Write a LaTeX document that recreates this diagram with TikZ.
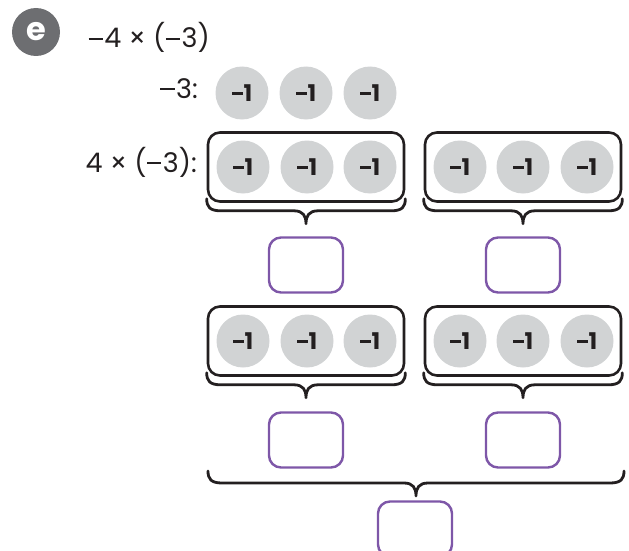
\documentclass[tikz,border=0pt]{standalone}
\usepackage{fontspec}
\setmainfont{Poppins}
\usetikzlibrary{calc}
\definecolor{chipgray}{HTML}{D1D3D4}
\definecolor{egray}{HTML}{6D6E71}
\definecolor{boxpurple}{HTML}{7E57A8}
\definecolor{ink}{HTML}{231F20}
\newcommand\mn{\kern0.02em\rule[0.3em]{0.52em}{0.065em}\kern0.06em}
\newcommand\bmn{\kern0.02em\rule[0.28em]{0.45em}{0.12em}\kern0.05em}
\tikzset{
  chip/.style={circle, fill=chipgray, minimum size=53pt, inner sep=0pt,
    font=\bfseries\fontsize{23}{23}\selectfont, text=ink},
  groupbox/.style={draw=ink, line width=2.6pt, rounded corners=12pt,
    minimum width=196pt, minimum height=69pt, inner sep=0pt},
  answerbox/.style={draw=boxpurple, line width=2.4pt, rounded corners=12pt,
    minimum width=74pt, minimum height=55pt, inner sep=0pt},
  bracestyle/.style={draw=ink, line width=2.8pt, line cap=round, line join=round},
  label/.style={font=\fontsize{27}{27}\selectfont, text=ink, inner sep=0pt},
}
\newcommand\drawbrace[2]{%
  \draw[bracestyle] let \p1=(#1), \p2=(#2), \p3=($(#1)!0.5!(#2)$) in
    (\x1,\y1) .. controls (\x1,\y1-8pt) and (\x1+3pt,\y1-12pt) .. (\x1+14pt,\y1-12pt)
    -- (\x3-12pt,\y1-12pt)
    .. controls (\x3-3pt,\y1-12pt) and (\x3,\y1-17pt) .. (\x3,\y1-25pt)
    .. controls (\x3,\y1-17pt) and (\x3+3pt,\y1-12pt) .. (\x3+12pt,\y1-12pt)
    -- (\x2-14pt,\y1-12pt)
    .. controls (\x2-3pt,\y1-12pt) and (\x2,\y1-8pt) .. (\x2,\y1);
}
\begin{document}
\begin{tikzpicture}[x=1pt,y=-1pt]
\useasboundingbox (0,0) rectangle (629,551);
\begin{scope}
\clip (0,0) rectangle (629,551);
% header
\node[circle, fill=egray, minimum size=48pt, inner sep=0pt, text=white,
  font=\bfseries\fontsize{32}{32}\selectfont] (e) at (36,32) {e};
\node[label, anchor=base west] (title) at (88,48) {\mn4 × (\mn3)};
% -3 row
\node[label, anchor=base east] (lab3) at (198,98) {\mn3:};
\node[chip] (t1) at (242,93) {\bmn1};
\node[chip] (t2) at (306,93) {\bmn1};
\node[chip] (t3) at (370,93) {\bmn1};
% 4 x (-3) row, first pair
\node[label, anchor=base east] (lab4) at (197,172) {4 × (\mn3):};
\node[groupbox] (g1) at (306,167) {};
\node[groupbox] (g2) at (523,167) {};
\foreach \i/\x in {1/243,2/307,3/370} \node[chip] (a\i) at (\x,167) {\bmn1};
\foreach \i/\x in {1/460,2/523,3/587} \node[chip] (b\i) at (\x,167) {\bmn1};
\coordinate (g1l) at ($(g1.south west)+(0,-4)$);
\coordinate (g1r) at ($(g1.south east)+(0,-4)$);
\coordinate (g2l) at ($(g2.south west)+(0,-4)$);
\coordinate (g2r) at ($(g2.south east)+(0,-4)$);
\drawbrace{g1l}{g1r}
\drawbrace{g2l}{g2r}
\node[answerbox] (p1) at (306,265) {};
\node[answerbox] (p2) at (523,265) {};
% second pair
\node[groupbox] (g3) at (306,341) {};
\node[groupbox] (g4) at (523,341) {};
\foreach \i/\x in {1/243,2/307,3/370} \node[chip] (c\i) at (\x,341) {\bmn1};
\foreach \i/\x in {1/460,2/523,3/587} \node[chip] (d\i) at (\x,341) {\bmn1};
\coordinate (g3l) at ($(g3.south west)+(0,-4)$);
\coordinate (g3r) at ($(g3.south east)+(0,-4)$);
\coordinate (g4l) at ($(g4.south west)+(0,-4)$);
\coordinate (g4r) at ($(g4.south east)+(0,-4)$);
\drawbrace{g3l}{g3r}
\drawbrace{g4l}{g4r}
\node[answerbox] (p3) at (306,440) {};
\node[answerbox] (p4) at (523,440) {};
% total brace
\coordinate (bl) at (208,471);
\coordinate (br) at (624,471);
\drawbrace{bl}{br}
\node[answerbox] (p5) at (415,529) {};
\end{scope}
\end{tikzpicture}
\end{document}
